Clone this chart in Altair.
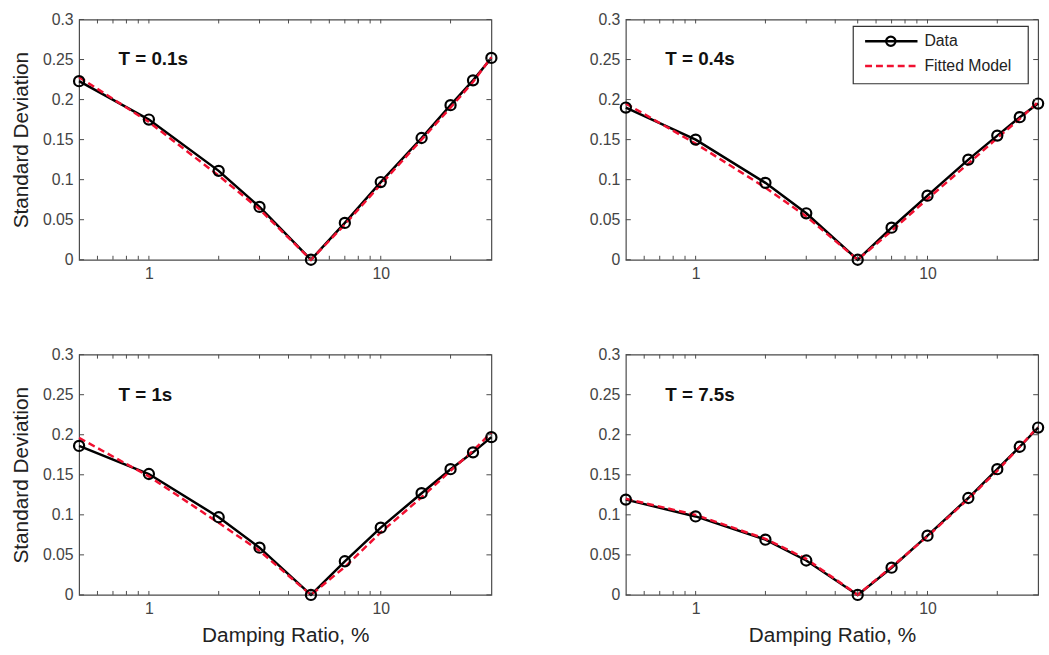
import altair as alt
import pandas as pd

# ---------------- data ----------------
damping = [0.5, 1, 2, 3, 5, 7, 10, 15, 20, 25, 30]
panel_titles = ["T = 0.1s", "T = 0.4s", "T = 1s", "T = 7.5s"]

data_t01 = [0.223, 0.175, 0.111, 0.066, 0.0, 0.046, 0.097, 0.152, 0.193, 0.224, 0.252]
fit_t01 = [0.228, 0.172, 0.105, 0.063, 0.0, 0.044, 0.094, 0.150, 0.190, 0.222, 0.253]

data_t04 = [0.190, 0.150, 0.096, 0.058, 0.0, 0.040, 0.080, 0.125, 0.155, 0.178, 0.195]
fit_t04 = [0.195, 0.145, 0.090, 0.054, 0.0, 0.036, 0.076, 0.120, 0.152, 0.176, 0.197]

data_t1 = [0.186, 0.151, 0.097, 0.059, 0.0, 0.042, 0.084, 0.127, 0.157, 0.178, 0.197]
fit_t1 = [0.196, 0.148, 0.090, 0.055, 0.0, 0.035, 0.078, 0.122, 0.155, 0.180, 0.203]

data_t75 = [0.119, 0.098, 0.069, 0.043, 0.0, 0.034, 0.074, 0.121, 0.157, 0.185, 0.209]
fit_t75 = [0.120, 0.100, 0.070, 0.045, 0.0, 0.035, 0.073, 0.120, 0.155, 0.185, 0.210]

y_ticks = [0, 0.05, 0.1, 0.15, 0.2, 0.25, 0.3]
x_label_ticks = [1, 10]
x_minor_ticks = [0.6, 0.7, 0.8, 0.9, 1, 2, 3, 4, 5, 6, 7, 8, 9, 10, 20]
legend_labels = ["Data", "Fitted Model"]

# annotation anchor (data coordinates) for the panel titles
title_anchor_x = 0.74
title_anchor_y = 0.25

# ---------------- style ----------------
FONT = "Liberation Sans"
RED = "#f01030"
FRAME = "#4a4a4a"
W, H = 417, 243
TICK = 5

x_scale = alt.Scale(type="log", domain=[0.5, 30], nice=False)
y_scale = alt.Scale(domain=[0, 0.3], nice=False, zero=False)


def panel(title, obs, fit, show_ytitle, show_xtitle, with_legend):
    df = pd.DataFrame({"damping": damping, "obs": obs, "fit": fit})
    xaxis_kw = dict(values=x_label_ticks, format="~g", grid=False, domain=False,
                    ticks=False, labelPadding=6, labelFontSize=16,
                    titleFontSize=21, titleFontWeight="normal", titlePadding=8)
    xaxis_kw["title"] = "Damping Ratio, %" if show_xtitle else None
    yaxis_kw = dict(values=y_ticks, format=".2~f", grid=False, domain=False,
                    ticks=False, labelPadding=6, labelFontSize=16,
                    titleFontSize=21, titleFontWeight="normal", titlePadding=11)
    yaxis_kw["title"] = "Standard Deviation" if show_ytitle else None

    def X(field):
        return alt.X(field, scale=x_scale, axis=alt.Axis(**xaxis_kw))

    def Y(field):
        return alt.Y(field, scale=y_scale, axis=alt.Axis(**yaxis_kw))

    base = alt.Chart(df)
    obs_line = base.mark_line(color="black", strokeWidth=2.5).encode(
        x=X("damping:Q"), y=Y("obs:Q"))
    obs_pts = base.mark_point(shape="circle", filled=False, color="black",
                              size=105, strokeWidth=2.2, opacity=1).encode(
        x=X("damping:Q"), y=Y("obs:Q"))
    fit_line = base.mark_line(color=RED, strokeWidth=2.5, strokeDash=[7, 4]).encode(
        x=X("damping:Q"), y=Y("fit:Q"))

    yt = alt.Chart(pd.DataFrame({"v": y_ticks}))
    xt = alt.Chart(pd.DataFrame({"v": x_minor_ticks}))
    tick_style = dict(color=FRAME, strokeWidth=1)
    y_left = yt.mark_rule(**tick_style).encode(
        y=Y("v:Q"), x=alt.value(0), x2=alt.value(TICK))
    y_right = yt.mark_rule(**tick_style).encode(
        y=Y("v:Q"), x=alt.value(W - TICK), x2=alt.value(W))
    x_bottom = xt.mark_rule(**tick_style).encode(
        x=X("v:Q"), y=alt.value(H - 4), y2=alt.value(H))
    x_top = xt.mark_rule(**tick_style).encode(
        x=X("v:Q"), y=alt.value(0), y2=alt.value(4))

    label = alt.Chart(pd.DataFrame({"x": [title_anchor_x], "y": [title_anchor_y], "t": [title]})).mark_text(
        align="left", baseline="middle", fontWeight="bold", fontSize=19, font=FONT, color="#111111"
    ).encode(x=X("x:Q"), y=Y("y:Q"), text="t:N")

    layers = [obs_line, fit_line, obs_pts, y_left, y_right, x_bottom, x_top, label]

    if with_legend:
        one = pd.DataFrame({"k": [0]})
        box = alt.Chart(one).mark_rect(fill="white", stroke="#333333", strokeWidth=1.2).encode(
            x=alt.value(230), x2=alt.value(407), y=alt.value(7), y2=alt.value(65))
        leg_data_line = alt.Chart(one).mark_rule(color="black", strokeWidth=2.5).encode(
            x=alt.value(242), x2=alt.value(295), y=alt.value(22))
        leg_data_pt = alt.Chart(one).mark_point(shape="circle", filled=False, color="black",
                                                size=90, strokeWidth=2.2, opacity=1).encode(
            x=alt.value(268), y=alt.value(22))
        leg_fit_line = alt.Chart(one).mark_rule(color=RED, strokeWidth=2.5, strokeDash=[7, 4]).encode(
            x=alt.value(242), x2=alt.value(295), y=alt.value(47))
        leg_text_style = dict(align="left", baseline="middle", fontSize=16, font=FONT, color="#222222")
        leg_t1 = alt.Chart(pd.DataFrame({"label": [legend_labels[0]]})).mark_text(**leg_text_style).encode(
            x=alt.value(302), y=alt.value(22), text="label:N")
        leg_t2 = alt.Chart(pd.DataFrame({"label": [legend_labels[1]]})).mark_text(**leg_text_style).encode(
            x=alt.value(302), y=alt.value(47), text="label:N")
        layers += [box, leg_data_line, leg_data_pt, leg_fit_line, leg_t1, leg_t2]

    return alt.layer(*layers).properties(width=W, height=H)


p1 = panel(panel_titles[0], data_t01, fit_t01, True, False, False)
p2 = panel(panel_titles[1], data_t04, fit_t04, False, False, True)
p3 = panel(panel_titles[2], data_t1, fit_t1, True, True, False)
p4 = panel(panel_titles[3], data_t75, fit_t75, False, True, False)

chart = alt.concat(p1, p2, p3, p4, columns=2, spacing={"row": 96, "column": 136}, bounds="flush").properties(
    padding={"left": 10, "top": 7, "right": 0, "bottom": 0},
    background="white",
).configure_view(
    stroke=FRAME, strokeWidth=1.2
).configure_axis(
    labelFont=FONT, titleFont=FONT, labelColor="#444444", titleColor="#222222"
).configure_text(font=FONT)

chart.save("out.html", embed_options={"renderer": "svg", "actions": False})
